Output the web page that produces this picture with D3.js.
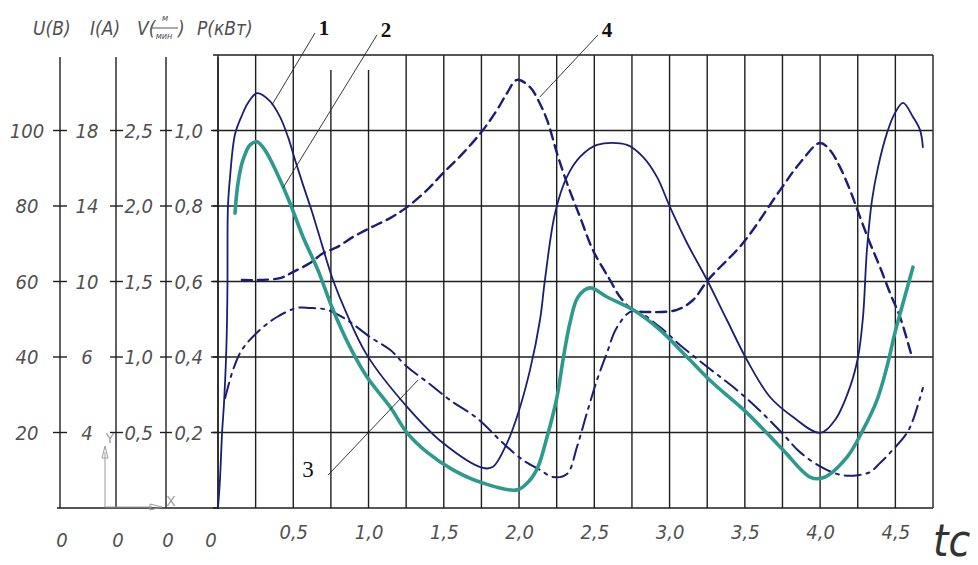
<!DOCTYPE html>
<html>
<head>
<meta charset="utf-8">
<script src="https://cdn.jsdelivr.net/npm/d3@7"></script>
<style>
  html, body { margin: 0; padding: 0; background: #fff; }
  svg { display: block; }
  .lbl { font-family: "Liberation Sans Narrow", "DejaVu Sans Condensed", "Liberation Sans", sans-serif; font-style: italic; fill: #505050; }
</style>
</head>
<body>
<svg width="978" height="565"></svg>
<script>
// time axis (s) and grid levels (read on the P scale, 0..1.2)
var tTicks = [0, 0.5, 1.0, 1.5, 2.0, 2.5, 3.0, 3.5, 4.0, 4.5]
var levels = [1.0, 0.8, 0.6, 0.4, 0.2]
var uLabels = ['100', '80', '60', '40', '20']
var iLabels = ['18', '14', '10', '6', '4']
var vLabels = ['2,5', '2,0', '1,5', '1,0', '0,5']
var pLabels = ['1,0', '0,8', '0,6', '0,4', '0,2']

// curve 1 - solid thin
var curve1 = [[0, 0], [0.013, 0.074], [0.027, 0.199], [0.04, 0.278], [0.053, 0.392], [0.06, 0.5], [0.063, 0.6],
  [0.066, 0.797], [0.08, 0.877], [0.113, 0.99], [0.159, 1.04], [0.199, 1.073], [0.259, 1.099], [0.345, 1.078],
  [0.412, 1.036], [0.465, 0.983], [0.512, 0.922], [0.565, 0.856], [0.625, 0.784], [0.691, 0.697], [0.764, 0.604],
  [0.844, 0.525], [0.99, 0.405], [1.256, 0.268], [1.495, 0.172], [1.76, 0.106], [1.827, 0.109], [1.92, 0.172], [1.986, 0.241],
  [2.073, 0.366], [2.139, 0.498], [2.172, 0.604], [2.239, 0.781], [2.318, 0.877], [2.405, 0.93], [2.518, 0.962],
  [2.717, 0.962], [2.823, 0.93], [2.916, 0.877], [3.003, 0.797], [3.116, 0.702], [3.249, 0.604], [3.381, 0.498],
  [3.514, 0.392], [3.667, 0.294], [3.82, 0.241], [3.999, 0.199], [4.099, 0.233], [4.199, 0.321], [4.252, 0.4],
  [4.285, 0.506], [4.311, 0.683], [4.345, 0.816], [4.385, 0.903], [4.444, 0.993], [4.497, 1.046], [4.551, 1.073],
  [4.617, 1.036], [4.664, 1.001], [4.683, 0.956]]

// curve 2 - thick teal
var curve2 = [[0.113, 0.781], [0.133, 0.861], [0.166, 0.922], [0.213, 0.962], [0.259, 0.97], [0.312, 0.948],
  [0.392, 0.887], [0.478, 0.808], [0.565, 0.718], [0.664, 0.63], [0.764, 0.525], [0.877, 0.426], [0.99, 0.347],
  [1.143, 0.268], [1.256, 0.199], [1.388, 0.148], [1.561, 0.101], [1.76, 0.066], [1.986, 0.048], [2.073, 0.074],
  [2.126, 0.109], [2.186, 0.188], [2.252, 0.294], [2.292, 0.392], [2.338, 0.49], [2.392, 0.559], [2.471, 0.583],
  [2.584, 0.559], [2.757, 0.525], [2.936, 0.472], [3.116, 0.4], [3.288, 0.331], [3.514, 0.252], [3.753, 0.154],
  [3.933, 0.082], [4.019, 0.08], [4.179, 0.135], [4.285, 0.207], [4.378, 0.286], [4.444, 0.374], [4.497, 0.464],
  [4.551, 0.543], [4.617, 0.638]]

// curve 3 - dash-dot
var curve3 = [[0.047, 0.291], [0.1, 0.366], [0.159, 0.419], [0.279, 0.472], [0.392, 0.506], [0.525, 0.53],
  [0.611, 0.53], [0.724, 0.525], [0.857, 0.498], [1.01, 0.453], [1.143, 0.419], [1.256, 0.374], [1.388, 0.334],
  [1.541, 0.286], [1.721, 0.238], [1.893, 0.172], [2.026, 0.127], [2.139, 0.101], [2.225, 0.082], [2.318, 0.09],
  [2.385, 0.162], [2.451, 0.252], [2.518, 0.339], [2.584, 0.411], [2.651, 0.479], [2.757, 0.522], [2.936, 0.479],
  [3.069, 0.432], [3.249, 0.374], [3.421, 0.321], [3.581, 0.265], [3.753, 0.196], [3.866, 0.148], [4.019, 0.106],
  [4.145, 0.087], [4.252, 0.087], [4.331, 0.095], [4.398, 0.119], [4.464, 0.146], [4.577, 0.199], [4.617, 0.233],
  [4.683, 0.318]]

// curve 4 - dashed
var curve4 = [[0.159, 0.604], [0.266, 0.604], [0.412, 0.609], [0.498, 0.625], [0.611, 0.649], [0.698, 0.675],
  [0.791, 0.691], [0.897, 0.718], [1.01, 0.742], [1.143, 0.768], [1.256, 0.797], [1.388, 0.842], [1.495, 0.887],
  [1.628, 0.94], [1.76, 1.001], [1.853, 1.054], [1.92, 1.099], [1.986, 1.134], [2.073, 1.115], [2.126, 1.081],
  [2.186, 1.028], [2.252, 0.94], [2.318, 0.861], [2.405, 0.771], [2.491, 0.683], [2.604, 0.604], [2.671, 0.559],
  [2.757, 0.525], [2.89, 0.519], [3.049, 0.525], [3.156, 0.551], [3.255, 0.604], [3.488, 0.702], [3.734, 0.842],
  [3.866, 0.914], [3.999, 0.967], [4.066, 0.948], [4.132, 0.903], [4.199, 0.842], [4.265, 0.771], [4.331, 0.702],
  [4.398, 0.638], [4.464, 0.57], [4.531, 0.506], [4.61, 0.4]]

// leader lines: curve point -> label end, label text
var notes = [
  {name: '1', from: [0.359, 1.068], to: [0.644, 1.258]},
  {name: '2', from: [0.432, 0.848], to: [1.056, 1.253]},
  {name: '3', from: [1.329, 0.339], to: [0.731, 0.087]},
  {name: '4', from: [2.139, 1.089], to: [2.524, 1.253]}
]

;(function (d3) {
  var svg = d3.select('svg')
  var ink = '#1e1e1e'
  var navy = '#1b1f74'

  var x = d3.scaleLinear().domain([0, 4.75]).range([218, 933])
  var y = d3.scaleLinear().domain([0, 1.2]).range([508, 55])

  // grid
  var grid = svg.append('g').attr('stroke', ink).attr('stroke-width', 1.4)
  grid.selectAll('line.v')
    .data(d3.range(0, 4.76, 0.25))
    .enter().append('line')
    .attr('x1', d => x(d)).attr('x2', d => x(d))
    .attr('y1', d => (d === 0.75 || d === 1) ? y(1.2) + 15 : y(1.2)).attr('y2', y(0))
  grid.selectAll('line.h')
    .data(d3.range(0, 1.21, 0.2))
    .enter().append('line')
    .attr('x1', x(0) - 5).attr('x2', x(4.75))
    .attr('y1', d => y(d)).attr('y2', d => y(d))
  // base line continues to the left axes
  grid.append('line').attr('x1', 57).attr('x2', x(0)).attr('y1', y(0)).attr('y2', y(0))

  // extra value axes
  var axes = [
    {x: 60, labels: uLabels, lx: 27, anchor: 'middle', t0: -7, t1: 7},
    {x: 116, labels: iLabels, lx: 87, anchor: 'middle', t0: -6, t1: 7},
    {x: 166, labels: vLabels, lx: 153, anchor: 'end', t0: -6, t1: 6},
    {x: x(0), labels: pLabels, lx: 203, anchor: 'end', t0: -7, t1: 0}
  ]
  axes.forEach(function (a) {
    grid.append('line').attr('x1', a.x).attr('x2', a.x).attr('y1', y(1.2) + 2).attr('y2', y(0))
    grid.selectAll(null).data(levels).enter().append('line')
      .attr('x1', a.x + a.t0).attr('x2', a.x + a.t1)
      .attr('y1', d => y(d)).attr('y2', d => y(d))
    svg.append('g').selectAll('text').data(levels).enter().append('text')
      .attr('class', 'lbl')
      .attr('x', a.lx).attr('y', d => y(d)).attr('dy', '0.36em')
      .attr('text-anchor', a.anchor)
      .style('font-size', '20px')
      .text((d, i) => a.labels[i])
    svg.append('text').attr('class', 'lbl')
      .attr('x', a.x === x(0) ? 211 : a.x + 2).attr('y', 547)
      .attr('text-anchor', 'middle').style('font-size', '20px').text('0')
  })

  // time axis labels
  var xAxis = d3.axisBottom(x)
    .tickValues(tTicks.slice(1))
    .tickSize(0)
    .tickFormat(d => d.toFixed(1).replace('.', ','))
  var gx = svg.append('g').attr('transform', 'translate(0,' + (y(0) + 24) + ')').call(xAxis)
  gx.select('.domain').remove()
  gx.selectAll('text').attr('class', 'lbl').attr('fill', null)
    .style('font-size', '20px').attr('dy', '0.36em').attr('y', 0)

  svg.append('text').attr('class', 'lbl')
    .attr('x', 933).attr('y', 556)
    .style('font-size', '44px').style('fill', '#333')
    .text('tc')

  // headers
  var head = svg.append('g').attr('class', 'lbl').style('font-size', '19px')
  head.append('text').attr('class', 'lbl').attr('x', 33).attr('y', 35).text('U(В)')
  head.append('text').attr('class', 'lbl').attr('x', 90).attr('y', 35).text('I(А)')
  head.append('text').attr('class', 'lbl').attr('x', 137).attr('y', 35).text('V(')
  head.append('text').attr('class', 'lbl').attr('x', 165).attr('y', 21).attr('text-anchor', 'middle').style('font-size', '9px').text('м')
  head.append('line').attr('x1', 151).attr('x2', 178).attr('y1', 28).attr('y2', 28).attr('stroke', '#555').attr('stroke-width', 1)
  head.append('text').attr('class', 'lbl').attr('x', 164).attr('y', 39).attr('text-anchor', 'middle').style('font-size', '9px').text('мин')
  head.append('text').attr('class', 'lbl').attr('x', 178).attr('y', 35).text(')')
  head.append('text').attr('class', 'lbl').attr('x', 197).attr('y', 35).text('P(кВт)')

  // small coordinate icon
  var ic = svg.append('g').attr('stroke', '#9a9a9a').attr('fill', 'none').attr('stroke-width', 1)
  ic.append('line').attr('x1', 105).attr('x2', 105).attr('y1', 507).attr('y2', 452)
  ic.append('path').attr('d', 'M105,446 L102,458 L108,458 Z')
  ic.append('line').attr('x1', 105).attr('x2', 152).attr('y1', 507).attr('y2', 507)
  ic.append('path').attr('d', 'M162,507 L150,504 L150,510 Z')
  svg.append('text').attr('x', 110).attr('y', 443).attr('text-anchor', 'middle')
    .style('font', '14px "Liberation Sans"').style('fill', '#9a9a9a').text('Y')
  svg.append('text').attr('x', 171).attr('y', 506).attr('text-anchor', 'middle')
    .style('font', '14px "Liberation Sans"').style('fill', '#9a9a9a').text('X')

  // curves
  var line = d3.line()
    .x(d => x(d[0]))
    .y(d => y(d[1]))
    .curve(d3.curveCatmullRom.alpha(0.5))

  var series = [
    {data: curve4, color: navy, width: 2.4, dash: '10,6'},
    {data: curve3, color: navy, width: 2, dash: '16,6,3,6'},
    {data: curve1, color: navy, width: 1.8, dash: null},
    {data: curve2, color: '#2e9a8e', width: 3.6, dash: null}
  ]
  svg.append('g').selectAll('path')
    .data(series)
    .enter().append('path')
    .attr('d', d => line(d.data))
    .attr('fill', 'none')
    .attr('stroke', d => d.color)
    .attr('stroke-width', d => d.width)
    .attr('stroke-dasharray', d => d.dash)
    .attr('stroke-linecap', 'round')
    .attr('stroke-linejoin', 'round')

  // leaders and numbers
  var nt = svg.append('g')
  nt.selectAll('line').data(notes).enter().append('line')
    .attr('x1', d => x(d.from[0])).attr('y1', d => y(d.from[1]))
    .attr('x2', d => x(d.to[0])).attr('y2', d => y(d.to[1]))
    .attr('stroke', '#222').attr('stroke-width', 0.9)
  nt.selectAll('text').data(notes).enter().append('text')
    .attr('x', d => d.name === '3' ? x(d.to[0]) - 20 : x(d.to[0]) + 9)
    .attr('y', d => d.name === '3' ? y(d.to[1]) + 2 : y(d.to[1]) + 2)
    .attr('text-anchor', 'middle')
    .style('font-family', '"Liberation Serif", serif')
    .style('font-weight', d => d.name === '3' ? 'normal' : 'bold')
    .style('font-size', d => d.name === '3' ? '23px' : '21px')
    .style('fill', '#111')
    .text(d => d.name)
})(window.d3)
</script>
</body>
</html>
